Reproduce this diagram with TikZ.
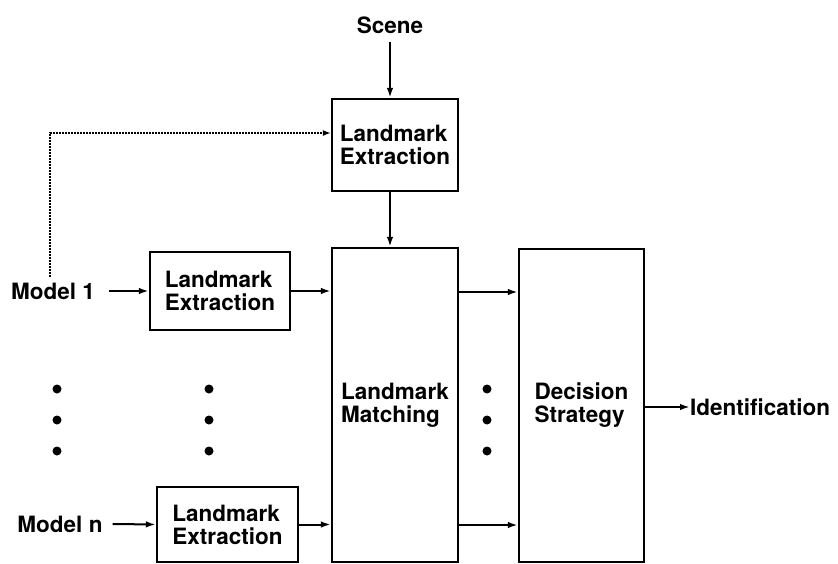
\documentclass[tikz,border=0pt]{standalone}
\usepackage{fontspec}
\setmainfont{TeX Gyre Heros}
\usetikzlibrary{arrows.meta,calc}
\begin{document}
\begin{tikzpicture}[x=1pt,y=-1pt,
  every node/.style={font=\fontsize{22.5}{23}\selectfont\bfseries},
  blk/.style={draw,line width=2.2pt,inner sep=0pt,align=left},
  lbl/.style={inner sep=0pt},
  arr/.style={line width=2pt,-{Latex[length=10pt,width=6.5pt]}},
  dotarr/.style={line width=1.8pt,dash pattern=on 1.6pt off 1.4pt,-{Latex[length=8pt,width=6pt]}},
  bigdot/.style={circle,fill,inner sep=0pt,minimum size=9pt}]
\useasboundingbox (0,0) rectangle (838,564);
% boxes
\node[blk,minimum width=126pt,minimum height=92pt] (le0) at (395,145) {Landmark\\Extraction};
\node[blk,minimum width=126pt,minimum height=314pt] (match) at (395,405) {Landmark\\Matching};
\node[blk,minimum width=125pt,minimum height=313pt] (dec) at (581.5,405.5) {Decision\\Strategy};
\node[blk,minimum width=140pt,minimum height=78pt] (le1) at (220,291) {Landmark\\Extraction};
\node[blk,minimum width=141pt,minimum height=75pt] (len) at (227.5,524.5) {Landmark\\Extraction};
% labels
\node[lbl] (scene) at (390,25) {Scene};
\node[lbl] (m1) at (53,291) {Model 1};
\node[lbl] (mn) at (60,524) {Model n};
\node[lbl,anchor=west] (ident) at (690,407) {Identification};
% dots
\foreach \y [count=\i] in {389,420,451} {
  \node[bigdot] (da\i) at (57,\y) {};
  \node[bigdot] (db\i) at (209,\y) {};
  \node[bigdot] (dc\i) at (487,\y) {};
}
% connectors
\draw[arr] (scene.south |- 0,42) -- (scene.south |- le0.north);
\draw[arr] (scene.south |- le0.south) -- (scene.south |- match.north);
\draw[arr] (m1.east) ++(14,0) coordinate (m1s) -- (le1.west);
\draw[arr] (mn.east) ++(10,0) coordinate (mns) -- (len.west);
\draw[arr] (le1.east) -- (match.west |- le1.east);
\draw[arr] (len.east) -- (match.west |- len.east);
\coordinate (r1) at (458,292);
\coordinate (r2) at (458,525);
\draw[arr] (r1) -- (dec.west |- r1);
\draw[arr] (r2) -- (dec.west |- r2);
\draw[arr] (dec.east |- ident.west) -- (ident.west);
\coordinate (fb) at (50,277);
\coordinate (fbt) at (50,133);
\draw[dotarr] (fb) -- (fbt) -- (le0.west |- fbt);
\end{tikzpicture}
\end{document}
